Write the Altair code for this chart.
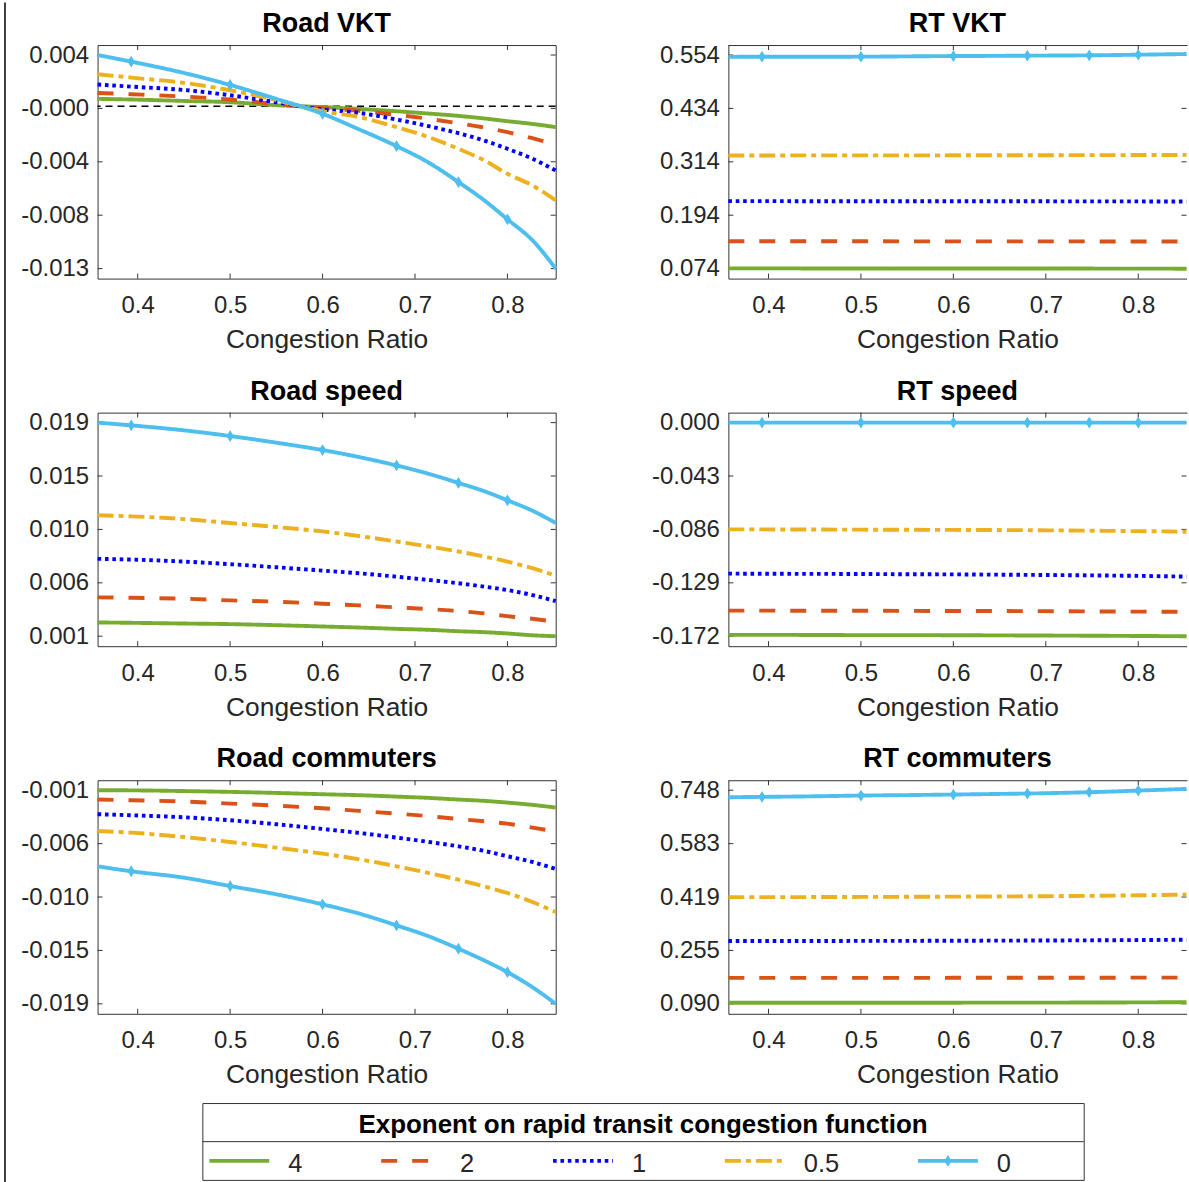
import altair as alt
import numpy as np
import pandas as pd

# ---------------------------------------------------------------- data
CONGESTION_RATIO = [0.3566, 0.393, 0.45, 0.5, 0.55, 0.6, 0.64, 0.68, 0.715,
                    0.747, 0.775, 0.8, 0.827, 0.8522]
MARKER_RATIOS = [0.393, 0.5, 0.6, 0.68, 0.747, 0.8]
RATIO_TICKS = [0.4, 0.5, 0.6, 0.7, 0.8]

EXPONENTS = ["4", "2", "1", "0.5", "0"]

ROAD_VKT = {
    "4":   [0.00058, 0.00053, 0.00042, 0.00032, 0.00009, -0.00006, -0.00020, -0.00038,
            -0.00056, -0.00074, -0.00094, -0.00115, -0.00136, -0.00161],
    "2":   [0.00104, 0.00094, 0.00076, 0.00053, 0.00018, -0.00014, -0.00035, -0.00066,
            -0.00097, -0.00131, -0.00164, -0.00200, -0.00247, -0.00298],
    "1":   [0.00169, 0.00153, 0.00127, 0.00086, 0.00032, -0.00024, -0.00051, -0.00102,
            -0.00154, -0.00208, -0.00265, -0.00329, -0.00406, -0.00497],
    "0.5": [0.00249, 0.00223, 0.00182, 0.00125, 0.00048, -0.00038, -0.00084, -0.00161,
            -0.00239, -0.00329, -0.00419, -0.00523, -0.00613, -0.00729],
    "0":   [0.00398, 0.00347, 0.00259, 0.00166, 0.00058, -0.00058, -0.00180, -0.00308,
            -0.00437, -0.00587, -0.00729, -0.00876, -0.01038, -0.01258],
}
ROAD_VKT_TICKS = [0.00398, -0.01258]
ROAD_VKT_LABELS = ["0.004", "-0.000", "-0.004", "-0.008", "-0.013"]

RT_VKT = {
    "4":   [0.0745, 0.0745, 0.0744, 0.0744, 0.0743, 0.0743, 0.0742, 0.0742, 0.0741,
            0.0741, 0.0740, 0.0740, 0.0739, 0.0738],
    "2":   [0.1355, 0.1355, 0.1354, 0.1354, 0.1353, 0.1353, 0.1352, 0.1352, 0.1351,
            0.1351, 0.1350, 0.1350, 0.1349, 0.1348],
    "1":   [0.2256, 0.2256, 0.2255, 0.2255, 0.2254, 0.2254, 0.2253, 0.2253, 0.2252,
            0.2252, 0.2251, 0.2250, 0.2249, 0.2248],
    "0.5": [0.3283, 0.3283, 0.3284, 0.3284, 0.3285, 0.3286, 0.3287, 0.3288, 0.3289,
            0.3290, 0.3291, 0.3292, 0.3294, 0.3295],
    "0":   [0.5498, 0.5502, 0.5502, 0.5503, 0.5510, 0.5517, 0.5520, 0.5525, 0.5529,
            0.5533, 0.5540, 0.5547, 0.5555, 0.5562],
}
RT_VKT_TICKS = [0.554, 0.074]
RT_VKT_LABELS = ["0.554", "0.434", "0.314", "0.194", "0.074"]

ROAD_SPEED = {
    "4":   [0.00236, 0.00233, 0.00227, 0.00222, 0.00213, 0.00202, 0.00193, 0.00182,
            0.00174, 0.00162, 0.00154, 0.00143, 0.00128, 0.00120],
    "2":   [0.00447, 0.00444, 0.00436, 0.00422, 0.00411, 0.00394, 0.00380, 0.00363,
            0.00349, 0.00332, 0.00312, 0.00289, 0.00267, 0.00241],
    "1":   [0.00772, 0.00766, 0.00749, 0.00727, 0.00701, 0.00673, 0.00650, 0.00622,
            0.00594, 0.00566, 0.00538, 0.00509, 0.00467, 0.00416],
    "0.5": [0.01139, 0.01130, 0.01107, 0.01074, 0.01040, 0.01003, 0.00964, 0.00918,
            0.00876, 0.00834, 0.00791, 0.00749, 0.00693, 0.00631],
    "0":   [0.01920, 0.01897, 0.01855, 0.01807, 0.01751, 0.01689, 0.01629, 0.01559,
            0.01488, 0.01412, 0.01342, 0.01265, 0.01178, 0.01074],
}
ROAD_SPEED_TICKS = [0.0192, 0.0012]
ROAD_SPEED_LABELS = ["0.019", "0.015", "0.010", "0.006", "0.001"]

RT_SPEED = {
    "4":   [-0.1709, -0.1709, -0.1710, -0.1711, -0.1711, -0.1712, -0.1713, -0.1714,
            -0.1715, -0.1716, -0.1717, -0.1718, -0.1719, -0.1720],
    "2":   [-0.1514, -0.1514, -0.1515, -0.1515, -0.1516, -0.1517, -0.1517, -0.1518,
            -0.1519, -0.1520, -0.1521, -0.1522, -0.1523, -0.1524],
    "1":   [-0.1216, -0.1217, -0.1218, -0.1219, -0.1221, -0.1222, -0.1224, -0.1226,
            -0.1228, -0.1230, -0.1232, -0.1234, -0.1237, -0.1240],
    "0.5": [-0.0860, -0.0860, -0.0861, -0.0862, -0.0863, -0.0864, -0.0865, -0.0866,
            -0.0868, -0.0870, -0.0872, -0.0874, -0.0876, -0.0879],
    "0":   [0.0, 0.0, 0.0, 0.0, 0.0, 0.0, 0.0, 0.0, 0.0, 0.0, 0.0, 0.0, 0.0, 0.0],
}
RT_SPEED_TICKS = [0.0, -0.172]
RT_SPEED_LABELS = ["0.000", "-0.043", "-0.086", "-0.129", "-0.172"]

ROAD_COMMUTERS = {
    "4":   [-0.00130, -0.00131, -0.00137, -0.00144, -0.00153, -0.00164, -0.00172, -0.00184,
            -0.00195, -0.00209, -0.00220, -0.00235, -0.00254, -0.00277],
    "2":   [-0.00209, -0.00215, -0.00226, -0.00243, -0.00260, -0.00283, -0.00305, -0.00328,
            -0.00350, -0.00373, -0.00393, -0.00413, -0.00446, -0.00480],
    "1":   [-0.00333, -0.00342, -0.00359, -0.00384, -0.00418, -0.00458, -0.00492, -0.00531,
            -0.00568, -0.00605, -0.00644, -0.00689, -0.00737, -0.00797],
    "0.5": [-0.00475, -0.00489, -0.00526, -0.00568, -0.00616, -0.00667, -0.00715, -0.00774,
            -0.00831, -0.00887, -0.00944, -0.01000, -0.01076, -0.01161],
    "0":   [-0.00774, -0.00816, -0.00870, -0.00941, -0.01011, -0.01096, -0.01175, -0.01274,
            -0.01367, -0.01472, -0.01571, -0.01670, -0.01797, -0.01938],
}
ROAD_COMMUTERS_TICKS = [-0.0013, -0.01938]
ROAD_COMMUTERS_LABELS = ["-0.001", "-0.006", "-0.010", "-0.015", "-0.019"]

RT_COMMUTERS = {
    "4":   [0.0931, 0.0931, 0.0932, 0.0933, 0.0934, 0.0935, 0.0936, 0.0937, 0.0938,
            0.0940, 0.0942, 0.0944, 0.0947, 0.0951],
    "2":   [0.1698, 0.1698, 0.1699, 0.1700, 0.1700, 0.1701, 0.1702, 0.1702, 0.1703,
            0.1704, 0.1705, 0.1706, 0.1707, 0.1708],
    "1":   [0.2834, 0.2834, 0.2836, 0.2838, 0.2840, 0.2843, 0.2846, 0.2849, 0.2852,
            0.2856, 0.2860, 0.2864, 0.2869, 0.2875],
    "0.5": [0.4185, 0.4186, 0.4189, 0.4193, 0.4197, 0.4202, 0.4207, 0.4213, 0.4219,
            0.4226, 0.4234, 0.4243, 0.4254, 0.4267],
    "0":   [0.7265, 0.7275, 0.7293, 0.7316, 0.7330, 0.7347, 0.7362, 0.7378, 0.7398,
            0.7419, 0.7443, 0.7470, 0.7495, 0.7521],
}
RT_COMMUTERS_TICKS = [0.748, 0.090]
RT_COMMUTERS_LABELS = ["0.748", "0.583", "0.419", "0.255", "0.090"]

LEGEND_TITLE = "Exponent on rapid transit congestion function"

# ---------------------------------------------------------------- style
FONT = "Liberation Sans"
INK = "#262626"
FRAME = "#333333"
COLORS = ["#77AC30", "#D95319", "#0000FF", "#EDB120", "#4DBEEE"]
DASHES = [[1, 0], [16, 15], [3.6, 3.8], [16, 5, 5, 5], [1, 0]]
LINE_W = 3.9
DIAMOND = "M0,-1L0.62,0L0,1L-0.62,0Z"
DIAMOND_SIZE = 140

PLOT_W, PLOT_H = 459, 234
TICK_LEN = 5
PAD_FRAC = 10 / 214          # space between the outer ticks and the frame
X_DOMAIN = [CONGESTION_RATIO[0], CONGESTION_RATIO[-1]]

COLOR = alt.Color("exponent:N", scale=alt.Scale(domain=EXPONENTS, range=COLORS), legend=None)
DASH = alt.StrokeDash("exponent:N", scale=alt.Scale(domain=EXPONENTS, range=DASHES), legend=None)
blank_view = alt.ViewBackground(stroke="transparent")
one = pd.DataFrame({"k": [0]})


def panel(title, values, tick_range, tick_labels, zero_line=False, open_right=False):
    """One boxed panel; panels in the right column run off the page edge,
    so their box is drawn without its right-hand side."""
    top, bottom = tick_range
    y_ticks = [float(t) for t in np.linspace(top, bottom, len(tick_labels))]
    pad = (top - bottom) * PAD_FRAC
    y_scale = alt.Scale(domain=[bottom - pad, top + pad], nice=False, zero=False)
    x_scale = alt.Scale(domain=X_DOMAIN, nice=False, zero=False)

    eps = (top - bottom) * 1e-3
    label_expr = "".join(
        f"abs(datum.value - ({t:.8f})) < {eps:.8f} ? '{lab}' : "
        for t, lab in zip(y_ticks, tick_labels)) + "''"

    x_axis = alt.Axis(values=RATIO_TICKS, format=".1f", ticks=False, domain=open_right,
                      domainColor=FRAME, domainWidth=1,
                      grid=False, labelPadding=15, labelFontSize=24, labelColor=INK,
                      labelFont=FONT, labelFlush=False, titleFont=FONT,
                      titleFontSize=26.4, titleFontWeight="normal", titleColor=INK,
                      titlePadding=9)
    y_axis = alt.Axis(values=y_ticks, labelExpr=label_expr, ticks=False, domain=open_right,
                      domainColor=FRAME, domainWidth=1,
                      grid=False, labelPadding=9, labelFontSize=24, labelColor=INK,
                      labelFont=FONT, labelFlush=False)
    X = alt.X("ratio:Q", scale=x_scale, axis=x_axis, title="Congestion Ratio")
    Y = alt.Y("value:Q", scale=y_scale, axis=y_axis, title=None)

    rows = []
    for s in EXPONENTS:
        for r, v in zip(CONGESTION_RATIO, values[s]):
            rows.append({"ratio": r, "value": v, "exponent": s,
                         "marker": r in MARKER_RATIOS})
    df = pd.DataFrame(rows)
    base = alt.Chart(df).encode(x=X, y=Y)

    # inward tick marks on all four sides of the box
    ytick_df = pd.DataFrame({"value": y_ticks})
    xtick_df = pd.DataFrame({"ratio": RATIO_TICKS})
    tick = dict(color=FRAME, strokeWidth=1)
    layers = [
        alt.Chart(ytick_df).mark_rule(**tick).encode(
            y=Y, x=alt.value(0), x2=alt.value(TICK_LEN)),
        alt.Chart(ytick_df).mark_rule(**tick).encode(
            y=Y, x=alt.value(PLOT_W - TICK_LEN), x2=alt.value(PLOT_W)),
        alt.Chart(xtick_df).mark_rule(**tick).encode(
            x=X, y=alt.value(PLOT_H - TICK_LEN), y2=alt.value(PLOT_H)),
        alt.Chart(xtick_df).mark_rule(**tick).encode(
            x=X, y=alt.value(0), y2=alt.value(TICK_LEN)),
    ]
    if open_right:
        # top edge of the box (left and bottom come from the axis domains)
        layers.append(alt.Chart(one).mark_rule(color=FRAME, strokeWidth=1).encode(
            x=alt.value(0), x2=alt.value(PLOT_W + 1), y=alt.value(0.5)))
    if zero_line:
        layers.append(
            alt.Chart(pd.DataFrame({"value": [0.0]}))
            .mark_rule(color="black", strokeWidth=1.5, strokeDash=[7, 5])
            .encode(y=Y))
    for s in EXPONENTS:
        layers.append(
            base.transform_filter(alt.datum.exponent == s)
            .mark_line(strokeWidth=LINE_W, strokeCap="butt", strokeJoin="round",
                       interpolate="monotone")
            .encode(color=COLOR, strokeDash=DASH))
    layers.append(
        base.transform_filter((alt.datum.exponent == "0") & alt.datum.marker)
        .mark_point(shape=DIAMOND, filled=True, size=DIAMOND_SIZE, opacity=1)
        .encode(color=COLOR))

    props = dict(width=PLOT_W, height=PLOT_H,
                 title=alt.TitleParams(title, fontSize=27, fontWeight="bold", font=FONT,
                                       color="black", offset=5, anchor="middle"))
    if open_right:
        props["view"] = blank_view
    return alt.layer(*layers).properties(**props)


panels = [
    panel("Road VKT", ROAD_VKT, ROAD_VKT_TICKS, ROAD_VKT_LABELS, zero_line=True),
    panel("RT VKT", RT_VKT, RT_VKT_TICKS, RT_VKT_LABELS, open_right=True),
    panel("Road speed", ROAD_SPEED, ROAD_SPEED_TICKS, ROAD_SPEED_LABELS),
    panel("RT speed", RT_SPEED, RT_SPEED_TICKS, RT_SPEED_LABELS, open_right=True),
    panel("Road commuters", ROAD_COMMUTERS, ROAD_COMMUTERS_TICKS, ROAD_COMMUTERS_LABELS),
    panel("RT commuters", RT_COMMUTERS, RT_COMMUTERS_TICKS, RT_COMMUTERS_LABELS,
          open_right=True),
]
grid = alt.concat(*panels, columns=2, bounds="flush",
                  spacing={"row": 134.3, "column": 173})

# ---------------------------------------------------------------- legend
LEG_W, LEG_H = 883, 77
LEG_LABEL_SIZE = 25.5
SYM_LEN, SYM_TO_LABEL, LABEL_TO_SYM = 60, 79, 79
ADVANCE = {".": 0.278}


def text_width(s, size):
    return sum(ADVANCE.get(c, 0.556) for c in s) * size


sym_start, label_x = [], []
pos = 7.0
for s in EXPONENTS:
    sym_start.append(pos)
    label_x.append(pos + SYM_TO_LABEL)
    pos += SYM_TO_LABEL + text_width(s, LEG_LABEL_SIZE) + LABEL_TO_SYM

legend_df = pd.DataFrame({
    "exponent": EXPONENTS,
    "x0": sym_start,
    "x1": [a + SYM_LEN for a in sym_start],
    "xm": [a + SYM_LEN / 2 for a in sym_start],
    "lx": label_x,
})
ENTRY_Y = 58

legend_box = alt.layer(
    alt.Chart(one).mark_text(text=LEGEND_TITLE, fontSize=26, fontWeight="bold", font=FONT,
                             color="black", align="center", baseline="alphabetic")
    .encode(x=alt.value(LEG_W / 2), y=alt.value(30.5)),
    alt.Chart(one).mark_rule(color=FRAME, strokeWidth=1)
    .encode(x=alt.value(0), x2=alt.value(LEG_W), y=alt.value(38.7)),
    alt.Chart(legend_df).mark_rule(strokeWidth=LINE_W, strokeCap="butt")
    .encode(x=alt.X("x0:Q", scale=None, axis=None), x2="x1:Q",
            y=alt.value(ENTRY_Y), color=COLOR, strokeDash=DASH),
    alt.Chart(legend_df).transform_filter(alt.datum.exponent == "0")
    .mark_point(shape=DIAMOND, filled=True, size=DIAMOND_SIZE, opacity=1)
    .encode(x=alt.X("xm:Q", scale=None, axis=None), y=alt.value(ENTRY_Y), color=COLOR),
    alt.Chart(legend_df).mark_text(align="left", baseline="alphabetic",
                                   fontSize=LEG_LABEL_SIZE, font=FONT, color=INK)
    .encode(x=alt.X("lx:Q", scale=None, axis=None), y=alt.value(69.5), text="exponent:N"),
).properties(width=LEG_W, height=LEG_H)

spacer = (alt.Chart(one).mark_point(opacity=0)
          .encode(x=alt.value(50), y=alt.value(38))
          .properties(width=102.7, height=LEG_H, view=blank_view))
legend_row = alt.hconcat(spacer, legend_box, spacing=0)

body = alt.vconcat(grid, legend_row, spacing=13)

# thin rule along the left edge of the figure, from the very top to the bottom
EDGE_TOP = 42.7
EDGE_H = 1140
edge = (alt.Chart(one).mark_rule(color="black", strokeWidth=1.5)
        .encode(x=alt.value(0.75), y=alt.value(-EDGE_TOP), y2=alt.value(EDGE_H))
        .properties(width=1, height=EDGE_H, view=blank_view))

chart = (alt.hconcat(edge, body, spacing=13.5)
         .properties(padding={"left": 3.25, "top": 0, "right": 0, "bottom": 0},
                     background="white")
         .configure_view(stroke=FRAME, strokeWidth=1))

chart.save("out.html", embed_options={"renderer": "svg", "actions": False})
